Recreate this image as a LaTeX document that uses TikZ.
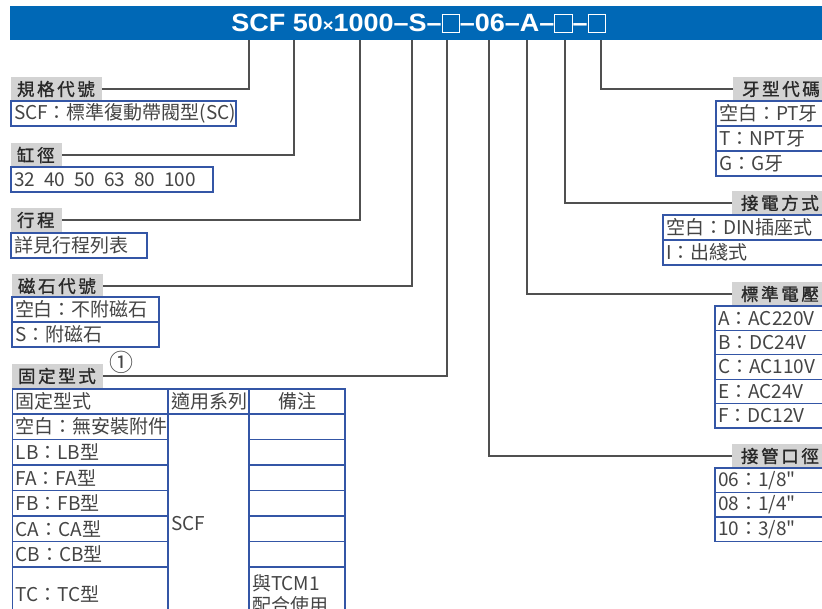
\documentclass[tikz,border=0pt]{standalone}
\usepackage{fontspec}
\setmainfont{Noto Sans CJK TC}
\newfontfamily\cellfamily{Noto Sans CJK TC}
\newfontfamily\bannerfont{Liberation Sans}
\newfontfamily\headfont[LetterSpace=15,FakeBold=1.2]{Noto Sans CJK TC}
\usetikzlibrary{positioning}

\definecolor{bannerblue}{RGB}{0,104,182}
\definecolor{cellblue}{RGB}{52,86,166}
\definecolor{headgray}{RGB}{211,211,211}
\definecolor{leadgray}{RGB}{80,80,80}
\definecolor{textgray}{RGB}{68,68,68}
\definecolor{headtext}{RGB}{40,40,40}

\newcommand\cellfont{\cellfamily\fontsize{19pt}{22pt}\selectfont}
\newcommand\slotbox{{\setlength{\fboxsep}{0pt}\setlength{\fboxrule}{0.9pt}\fbox{\rule{0pt}{17pt}\hspace{15pt}}}}

\tikzset{
  head/.style={fill=headgray, text=headtext, font={\headfont\fontsize{17.5pt}{20pt}\selectfont},
    anchor=north west, minimum height=24, inner xsep=6, inner ysep=0, outer sep=0, align=left},
  cell/.style={draw=cellblue, line width=1.3, text=textgray, font=\cellfont,
    anchor=north west, minimum height=25, inner xsep=3, inner ysep=0, outer sep=0, align=left},
  lead/.style={draw=leadgray, line width=1.2},
}

\begin{document}
\begin{tikzpicture}[x=1pt,y=-1pt]
  \useasboundingbox (0,0) rectangle (822,608);
  % banner with the model code
  \fill[bannerblue] (10,6) rectangle (830,40);
  \node[text=white, font={\bannerfont\bfseries\fontsize{25pt}{25pt}\selectfont}] (code) at (418.5,23)
    {\scalebox{1.08}[1]{SCF 50{\fontsize{17pt}{17pt}\selectfont ×}1000–S–\slotbox–06–A–\slotbox–\slotbox}};
  \coordinate (p1) at (249,40);
  \coordinate (p2) at (294,40);
  \coordinate (p3) at (360,40);
  \coordinate (p4) at (412,40);
  \coordinate (p5) at (447,40);
  \coordinate (p6) at (489,40);
  \coordinate (p7) at (527,40);
  \coordinate (p8) at (565,40);
  \coordinate (p9) at (601,40);

  % left column
  \node[head, text width=79] (hSpec) at (11,77) {規格代號};
  \node[cell, text width=219] (cSpec) at (11,101) {SCF：標準復動帶閥型(SC)};
  \node[head, text width=39] (hBore) at (11,143) {缸徑};
  \node[cell, text width=196] (cBore) at (11,167) {32\hspace{9pt}40\hspace{9pt}50\hspace{9pt}63\hspace{9pt}80\hspace{9pt}100};
  \node[head, text width=39] (hStroke) at (11,208) {行程};
  \node[cell, text width=130] (cStroke) at (11,233) {詳見行程列表};
  \node[head, text width=79] (hMag) at (12,274) {磁石代號};
  \node[cell, text width=141] (cMag1) at (12,297) {空白：不附磁石};
  \node[cell, text width=141, below=0pt of cMag1] (cMag2) {S：附磁石};
  \node[head, text width=79] (hMount) at (12,364) {固定型式};
  \node[text=textgray, font={\cellfamily\fontsize{24pt}{24pt}\selectfont}] (note) at (121,362) {①};

  % mounting table
  \node[cell, text width=149.3] (mt0) at (12.7,389) {固定型式};
  \node[cell, text width=75, right=0pt of mt0] (ms0) {適用系列};
  \node[cell, text width=90, align=center, right=0pt of ms0] (mn0) {備注};
  \node[cell, text width=149.3, minimum height=25.5, below=0pt of mt0] (mt1) {空白：無安裝附件};
  \node[cell, text width=149.3, minimum height=25.5, below=0pt of mt1] (mt2) {LB：LB型};
  \node[cell, text width=149.3, minimum height=25.5, below=0pt of mt2] (mt3) {FA：FA型};
  \node[cell, text width=149.3, minimum height=25.5, below=0pt of mt3] (mt4) {FB：FB型};
  \node[cell, text width=149.3, minimum height=25.5, below=0pt of mt4] (mt5) {CA：CA型};
  \node[cell, text width=149.3, minimum height=25.5, below=0pt of mt5] (mt6) {CB：CB型};
  \node[cell, text width=149.3, minimum height=54, below=0pt of mt6] (mt7) {TC：TC型};
  \node[cell, text width=75, minimum height=220] (ms1) at (mt1.north east) {SCF};
  \node[cell, text width=90, minimum height=25.5, below=0pt of mn0] (mn1) {};
  \node[cell, text width=90, minimum height=25.5, below=0pt of mn1] (mn2) {};
  \node[cell, text width=90, minimum height=25.5, below=0pt of mn2] (mn3) {};
  \node[cell, text width=90, minimum height=25.5, below=0pt of mn3] (mn4) {};
  \node[cell, text width=90, minimum height=25.5, below=0pt of mn4] (mn5) {};
  \node[cell, text width=90, minimum height=25.5, below=0pt of mn5] (mn6) {};
  \node[cell, text width=90, minimum height=54, below=0pt of mn6] (mn7) {與TCM1\\配合使用};

  % right column
  \node[head, text width=92, inner xsep=9] (hThread) at (733,77) {牙型代碼};
  \node[cell, text width=118] (cThread1) at (716,101) {空白：PT牙};
  \node[cell, text width=118, below=0pt of cThread1] (cThread2) {T：NPT牙};
  \node[cell, text width=118, below=0pt of cThread2] (cThread3) {G：G牙};
  \node[head, text width=92, inner xsep=9] (hWire) at (732,191) {接電方式};
  \node[cell, text width=171] (cWire1) at (663,215) {空白：DIN插座式};
  \node[cell, text width=171, below=0pt of cWire1] (cWire2) {I：出綫式};
  \node[head, text width=92, inner xsep=9] (hVolt) at (732,282) {標準電壓};
  \node[cell, text width=119, minimum height=24.4] (cVolt1) at (715,306) {A：AC220V};
  \node[cell, text width=119, minimum height=24.4, below=0pt of cVolt1] (cVolt2) {B：DC24V};
  \node[cell, text width=119, minimum height=24.4, below=0pt of cVolt2] (cVolt3) {C：AC110V};
  \node[cell, text width=119, minimum height=24.4, below=0pt of cVolt3] (cVolt4) {E：AC24V};
  \node[cell, text width=119, minimum height=24.4, below=0pt of cVolt4] (cVolt5) {F：DC12V};
  \node[head, text width=92, inner xsep=9] (hPort) at (732,444) {接管口徑};
  \node[cell, text width=119, minimum height=24.5] (cPort1) at (715,468) {06：1/8"};
  \node[cell, text width=119, minimum height=24.5, below=0pt of cPort1] (cPort2) {08：1/4"};
  \node[cell, text width=119, minimum height=24.5, below=0pt of cPort2] (cPort3) {10：3/8"};

  % leader lines
  \draw[lead] (p1) |- (hSpec.east);
  \draw[lead] (p2) |- (hBore.east);
  \draw[lead] (p3) |- (hStroke.east);
  \draw[lead] (p4) |- (hMag.east);
  \draw[lead] (p5) |- (hMount.east);
  \draw[lead] (p6) |- (hPort.west);
  \draw[lead] (p7) |- (hVolt.west);
  \draw[lead] (p8) |- (hWire.west);
  \draw[lead] (p9) |- (hThread.west);
\end{tikzpicture}
\end{document}
